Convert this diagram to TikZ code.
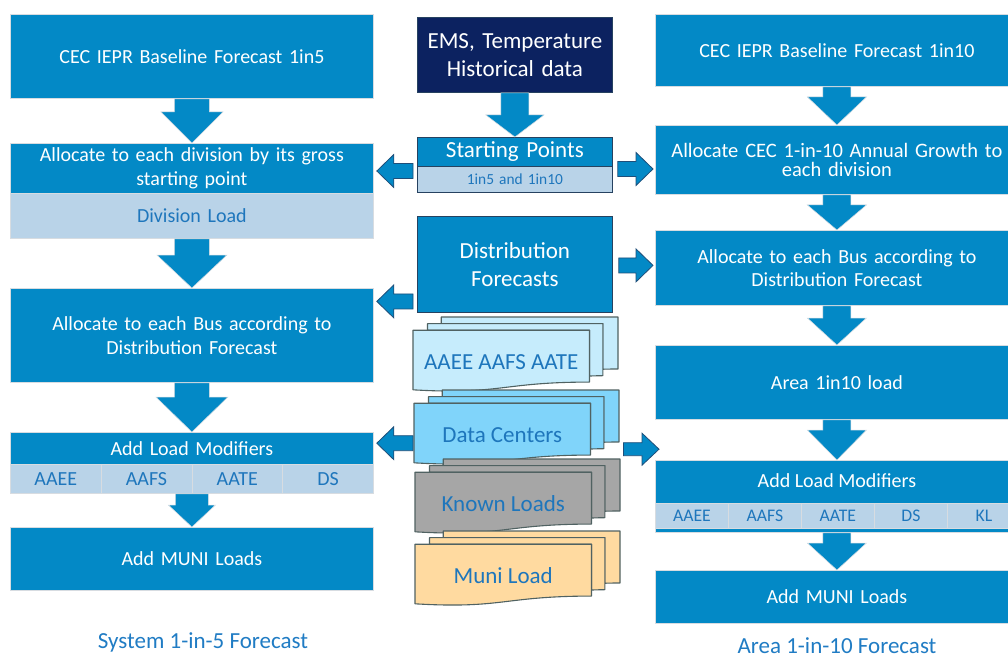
\documentclass[tikz,border=0pt]{standalone}
\usepackage{fontspec}
\setmainfont{Carlito}
\usetikzlibrary{calc}

\definecolor{cblue}{RGB}{3,137,198}
\definecolor{clight}{RGB}{185,211,232}
\definecolor{cnavy}{RGB}{12,34,96}
\definecolor{ctext}{RGB}{30,118,188}
\definecolor{capblue}{RGB}{32,124,196}
\definecolor{rimgray}{RGB}{215,220,225}
\definecolor{srcedge}{RGB}{38,66,96}
\definecolor{sideedge}{RGB}{31,78,121}
\definecolor{docedge}{RGB}{80,98,98}
\definecolor{docA}{RGB}{198,236,252}
\definecolor{docB}{RGB}{128,212,250}
\definecolor{docC}{RGB}{166,166,166}
\definecolor{docD}{RGB}{255,218,160}

\tikzset{
  stepbox/.style={anchor=north west, inner sep=0pt, fill=cblue, draw=rimgray,
    line width=0.8pt, text=white, align=center, font=\fontsize{20}{23.5}\selectfont},
  rowbox/.style={stepbox, fill=clight, text=ctext},
  srcbox/.style={stepbox, draw=srcedge, font=\fontsize{23}{28}\selectfont},
  flowdown/.style={fill=cblue, draw=rimgray, line width=0.5pt},
  flowside/.style={fill=cblue, draw=sideedge, line width=0.8pt, line join=miter},
  docpage/.style={draw=docedge, line width=1.1pt, line join=round},
  doctext/.style={text=ctext, font=\fontsize{23}{28}\selectfont, inner sep=0pt},
  caption/.style={text=capblue, font=\fontsize{23}{28}\selectfont, inner sep=0pt},
}

% block arrow: [style]{tail}{tip}{shaft half-width}{head half-width}{head length}
\newcommand\flowarrow[6][]{%
  \coordinate (fa-base) at ($(#3)!#6pt!(#2)$);
  \path[#1] ($(#2)!#4pt!90:(#3)$) -- ($(fa-base)!#4pt!90:(#3)$)
    -- ($(fa-base)!#5pt!90:(#3)$) -- (#3) -- ($(fa-base)!#5pt!-90:(#3)$)
    -- ($(fa-base)!#4pt!-90:(#3)$) -- ($(#2)!#4pt!-90:(#3)$) -- cycle;}

% stack of three documents: {name}{left}{top}{fill}{label}
\newcommand\docstack[5]{%
  \node[anchor=north west, inner sep=0pt, minimum width=205pt, minimum height=78pt] (#1) at (#2,#3) {};
  \begin{scope}[shift={(#1.north west)}]
    \filldraw[docpage, fill=#4] (28.21,6.55) -- (28.21,0) -- (205,0) -- (205,51.97)
      .. controls (197.4,51.97) and (189.82,52.24) .. (189.82,52.24) -- (189.82,6.55) -- cycle;
    \filldraw[docpage, fill=#4] (14.54,13.27) -- (14.54,6.55) -- (189.82,6.55) -- (189.82,58.69)
      .. controls (183.15,58.69) and (176.48,59.05) .. (176.48,59.05) -- (176.48,13.27) -- cycle;
    \filldraw[docpage, fill=#4] (0,13.27) -- (176.48,13.27) -- (176.48,65.08)
      .. controls (88.24,65.08) and (88.24,78) .. (0,72.81) -- cycle;
    \node[doctext] (#1-t) at (88.24,45) {#5};
  \end{scope}}

\begin{document}
\begin{tikzpicture}[x=1pt,y=-1pt]
\useasboundingbox (0,0) rectangle (1008,660);
\clip (0,0) rectangle (1008,660);
\fill[white] (0,0) rectangle (1008,660);

% ---------- left column: system 1-in-5 ----------
\node[stepbox, minimum width=363pt, text width=363pt, minimum height=84pt] (L1) at (10,14)
  {CEC IEPR Baseline Forecast 1in5};
\node[stepbox, minimum width=363pt, text width=363pt, minimum height=50pt] (L2) at (10,143)
  {Allocate to each division by its gross\\starting point};
\node[rowbox, minimum width=363pt, text width=363pt, minimum height=45pt] (L2b) at (10,193)
  {Division Load};
\node[stepbox, minimum width=363pt, text width=363pt, minimum height=94pt] (L3) at (10,288)
  {Allocate to each Bus according to\\Distribution Forecast};
\node[stepbox, minimum width=363pt, text width=363pt, minimum height=32pt] (L4) at (10,432)
  {Add Load Modifiers};
\node[rowbox, minimum width=90.75pt, text width=90.75pt, minimum height=29pt] (L4a) at (10,464) {AAEE};
\node[rowbox, minimum width=90.75pt, text width=90.75pt, minimum height=29pt] (L4b) at (100.75,464) {AAFS};
\node[rowbox, minimum width=90.75pt, text width=90.75pt, minimum height=29pt] (L4c) at (191.5,464) {AATE};
\node[rowbox, minimum width=90.75pt, text width=90.75pt, minimum height=29pt] (L4d) at (282.25,464) {DS};
\node[stepbox, minimum width=363pt, text width=363pt, minimum height=63pt] (L5) at (10,527)
  {Add MUNI Loads};
\node[caption] (capL) at (203,642) {System 1-in-5 Forecast};

% ---------- right column: area 1-in-10 ----------
\node[stepbox, minimum width=363pt, text width=363pt, minimum height=72pt] (R1) at (655,14)
  {CEC IEPR Baseline Forecast 1in10};
\node[stepbox, minimum width=363pt, text width=363pt, minimum height=69pt,
  font=\fontsize{20.5}{19.5}\selectfont] (R2) at (655,125)
  {Allocate CEC 1-in-10 Annual Growth to\\each division};
\node[stepbox, minimum width=363pt, text width=363pt, minimum height=75pt] (R3) at (655,230)
  {Allocate to each Bus according to\\Distribution Forecast};
\node[stepbox, minimum width=363pt, text width=363pt, minimum height=74pt] (R4) at (655,345)
  {Area 1in10 load};
\node[stepbox, minimum width=363pt, minimum height=72pt] (R5) at (655,460) {};
\node[text=white, font=\fontsize{20}{23.5}\selectfont, inner sep=0pt] (R5t) at ($(R5.north)+(0,21)$)
  {Add Load Modifiers};
\foreach \lab [count=\i from 0] in {AAEE,AAFS,AATE,DS,KL}
  \node[rowbox, minimum width=73pt, text width=73pt, minimum height=25pt,
    font=\fontsize{17.7}{20}\selectfont] (R5c\i) at (655+73*\i,503) {\lab};
\node[stepbox, minimum width=363pt, text width=363pt, minimum height=53pt] (R6) at (655,570)
  {Add MUNI Loads};
\node[caption] (capR) at (837,646) {Area 1-in-10 Forecast};

% ---------- centre: inputs ----------
\node[srcbox, fill=cnavy, minimum width=195pt, text width=195pt, minimum height=75pt] (EMS) at (417,17)
  {EMS, Temperature\\Historical data};
\node[srcbox, minimum width=195pt, text width=195pt, minimum height=29pt] (SP) at (417,137)
  {Starting Points};
\node[srcbox, fill=clight, text=ctext, font=\fontsize{15.4}{18}\selectfont,
  minimum width=195pt, text width=195pt, minimum height=26pt] (SPb) at (417,166)
  {1in5 and 1in10};
\node[srcbox, minimum width=195pt, text width=195pt, minimum height=96pt] (DF) at (417,216)
  {Distribution\\Forecasts};

\docstack{AA}{413}{317}{docA}{AAEE AAFS AATE}
\docstack{DC}{414}{390}{docB}{Data Centers}
\docstack{KL}{415}{459}{docC}{Known Loads}
\docstack{ML}{415}{531}{docD}{Muni Load}

% ---------- downward flow arrows ----------
\flowarrow[flowdown]{L1.south}{L2.north}{17.5}{31}{31}
\flowarrow[flowdown]{L2b.south}{L3.north}{17.5}{35}{33}
\flowarrow[flowdown]{L3.south}{L4.north}{17.5}{36}{35}
\coordinate (l4-b) at (L5.north |- L4b.south);
\flowarrow[flowdown]{l4-b}{L5.north}{16.5}{23.5}{22}

\flowarrow[flowdown]{R1.south}{R2.north}{14}{29.5}{28}
\flowarrow[flowdown]{R2.south}{R3.north}{14}{29.5}{25}
\flowarrow[flowdown]{R3.south}{R4.north}{14}{29.5}{27}
\flowarrow[flowdown]{R4.south}{R5.north}{14}{29.5}{30}
\flowarrow[flowdown]{R5.south}{R6.north}{14}{29.5}{27}

\flowarrow[flowdown]{EMS.south}{SP.north}{14}{29}{22}

% ---------- sideways feed arrows ----------
\coordinate (sp-l) at ($(SPb.north west)+(-4,5)$);
\coordinate (l2-r) at ($(L2.east |- sp-l)+(3,0)$);
\flowarrow[flowside]{sp-l}{l2-r}{7.5}{16.5}{17}
\coordinate (sp-r) at ($(SPb.north east)+(5,3)$);
\coordinate (r2-l) at ($(R2.west |- sp-r)+(-2,0)$);
\flowarrow[flowside]{sp-r}{r2-l}{7.5}{16.5}{17}

\coordinate (df-l) at ($(DF.west)+(-4,37)$);
\coordinate (l3-r) at ($(L3.east |- df-l)+(3,0)$);
\flowarrow[flowside]{df-l}{l3-r}{7.5}{16.5}{17}
\coordinate (df-r) at ($(DF.east)+(6,1)$);
\coordinate (r3-l) at ($(R3.west |- df-r)+(-2,0)$);
\flowarrow[flowside]{df-r}{r3-l}{7.5}{16.5}{17}

\coordinate (dc-l) at ($(DC.west)+(-1,14)$);
\coordinate (l4-r) at ($(L4.east |- dc-l)+(3,0)$);
\flowarrow[flowside]{dc-l}{l4-r}{7.5}{16.5}{17}
\coordinate (dc-r) at ($(DC.east)+(4,20)$);
\coordinate (r5-l) at ($(R5.west |- dc-r)+(4,0)$);
\flowarrow[flowside]{dc-r}{r5-l}{6.5}{16}{17}
\end{tikzpicture}
\end{document}
